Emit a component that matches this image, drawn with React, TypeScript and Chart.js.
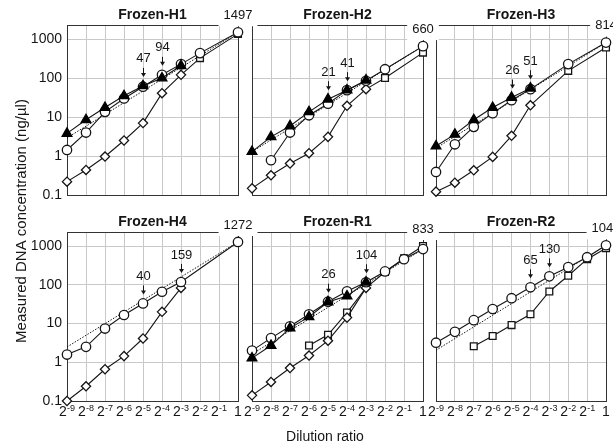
import { useEffect, useRef } from 'react';
import { Chart, registerables } from 'chart.js';

Chart.register(...registerables);

const W = 613;
const H = 446;
const FONT = "'Liberation Sans', Arial, Helvetica, sans-serif";
const INK = '#151515';
const GRID = '#c9c9c9';

// Dilution ratio exponents: 2^-9 ... 2^0 (= 1)
const exponents = [-9, -8, -7, -6, -5, -4, -3, -2, -1, 0];
const yTickValues = [0.1, 1, 10, 100, 1000];
const yMin = 0.1;
const yMax = 2300;

const titles = ['Frozen-H1', 'Frozen-H2', 'Frozen-H3', 'Frozen-H4', 'Frozen-R1', 'Frozen-R2'];

// Measured DNA concentration (ng/µl), one value per exponent (null = no point)
const h1Triangle = [3.8, 8.5, 17.5, 35, 63, 100, 207, null, null, null];
const h1Circle = [1.43, 4.0, 13.6, 30, 60, 121, 228, 437, null, 1497];
const h1Diamond = [0.22, 0.44, 0.97, 2.5, 7.0, 41, 121, null, null, null];
const h1Square = [null, null, null, null, null, null, 121, 325, null, 1360];

const h2Triangle = [1.3, 3.1, 5.9, 13.6, 28.7, 49, 88, null, null, null];
const h2Circle = [null, 0.78, 4.0, 11.1, 22, 49, 85, 169, null, 660];
const h2Diamond = [0.148, 0.32, 0.64, 1.18, 3.1, 19.4, 52, null, null, null];
const h2Square = [null, null, null, null, null, null, 52, 100, null, 450];

const h3Triangle = [1.8, 3.6, 8.5, 17.5, 31.7, 55, null, null, null, null];
const h3Circle = [0.39, 2.0, 5.6, 12.6, 27, 52, null, 228, null, 814];
const h3Diamond = [0.122, 0.207, 0.43, 0.95, 3.3, 20, null, null, null, null];
const h3Square = [null, null, null, null, null, 20, null, 153, null, 607];

const h4Circle = [1.58, 2.5, 7.4, 16.6, 33, 66, 118, null, null, 1272];
const h4Diamond = [0.1, 0.24, 0.66, 1.44, 4.1, 20, 83, null, null, null];

const r1Triangle = [1.28, 2.7, 7.6, 14.8, 36, 51, 116, null, null, null];
const r1Circle = [2.0, 4.2, 8.5, 17.3, 36.5, 68, 116, 221, 457, 833];
const r1Diamond = [0.14, 0.31, 0.71, 1.49, 3.6, 14.2, 83, null, null, null];
const r1Square = [null, null, null, 2.7, 5.1, 19.1, 83, 213, 484, 1000];

const r2Circle = [3.2, 6.1, 12.2, 23.7, 45, 86, 165, 285, 514, 1045];
const r2Square = [null, null, 2.6, 4.75, 9.1, 17.3, 67, 171, 457, 872];

// Expected (dotted) line: value at 2^-9 and at 1
const expectedLowest = [2.92, 1.29, 1.59, 2.48, 1.63, 2.04];
const expectedStock = [1497, 660, 814, 1272, 833, 1045];

// Arrow annotations
const arrowExponents = [[-5, -4], [-5, -4], [-5, -4], [-5, -3], [-5, -3], [-4, -3]];
const arrowLabels = [[47, 94], [21, 41], [26, 51], [40, 159], [26, 104], [65, 130]];

const triangles = [h1Triangle, h2Triangle, h3Triangle, null, r1Triangle, null];
const circles = [h1Circle, h2Circle, h3Circle, h4Circle, r1Circle, r2Circle];
const diamonds = [h1Diamond, h2Diamond, h3Diamond, h4Diamond, r1Diamond, null];
const squares = [h1Square, h2Square, h3Square, null, r1Square, r2Square];

// Panel geometry (plot areas)
const colLeft = [67, 252, 436];
const colRight = [238, 423, 606];
const rowTop = [25, 232];
const rowBottom = [195, 401];
const yLabelWidth = 60;

function pts(arr: (number | null)[]) {
  return exponents.map((x, k) => ({ x, y: arr[k] })).filter((d) => d.y !== null);
}

function seriesAt(i: number, k: number): number[] {
  const out: number[] = [];
  [triangles[i], circles[i], diamonds[i], squares[i]].forEach((s: any) => {
    if (s && s[k] !== null && s[k] !== undefined) out.push(s[k]);
  });
  return out;
}

function makePlugin(i: number) {
  const row = Math.floor(i / 3);
  return {
    id: 'panelDecor' + i,
    beforeDatasetsDraw(chart: any) {
      const { ctx, chartArea: a } = chart;
      ctx.save();
      ctx.strokeStyle = '#333';
      ctx.lineWidth = 1;
      ctx.strokeRect(a.left + 0.5, a.top + 0.5, a.right - a.left, a.bottom - a.top);
      ctx.restore();
    },
    afterDraw(chart: any) {
      const { ctx, chartArea: a } = chart;
      const xs = chart.scales.x;
      const ys = chart.scales.y;
      ctx.save();
      ctx.fillStyle = INK;
      ctx.strokeStyle = INK;

      // panel title
      ctx.font = `bold 14px ${FONT}`;
      ctx.textAlign = 'center';
      ctx.textBaseline = 'middle';
      ctx.fillText(titles[i], (a.left + a.right) / 2, a.top - 10);

      // arrow annotations
      ctx.font = `13px ${FONT}`;
      arrowExponents[i].forEach((e, j) => {
        const k = exponents.indexOf(e);
        const top = Math.max(...seriesAt(i, k));
        const px = Math.round(xs.getPixelForValue(e)) + 0.5;
        const py = ys.getPixelForValue(top);
        const tip = py - 9;
        ctx.lineWidth = 1;
        ctx.beginPath();
        ctx.moveTo(px, tip - 9);
        ctx.lineTo(px, tip - 3);
        ctx.stroke();
        ctx.beginPath();
        ctx.moveTo(px - 2.5, tip - 4);
        ctx.lineTo(px + 2.5, tip - 4);
        ctx.lineTo(px, tip);
        ctx.closePath();
        ctx.fill();
        ctx.fillText(String(arrowLabels[i][j]), px, tip - 18);
      });

      // stock value label with white box
      {
        const k = exponents.indexOf(0);
        const top = Math.max(...seriesAt(i, k));
        const px = xs.getPixelForValue(0);
        const py = ys.getPixelForValue(top) - 17;
        const txt = String(expectedStock[i]);
        const w = ctx.measureText(txt).width;
        ctx.fillStyle = '#fff';
        ctx.fillRect(px - w / 2 - 5, py - 9, w + 10, 20);
        ctx.fillStyle = INK;
        ctx.fillText(txt, px, py);
      }

      // x tick labels (bottom row only)
      if (row === 1) {
        exponents.forEach((e) => {
          const px = xs.getPixelForValue(e);
          const base = a.bottom + 15;
          ctx.textBaseline = 'alphabetic';
          if (e === 0) {
            ctx.font = `14px ${FONT}`;
            ctx.textAlign = 'center';
            ctx.fillText('1', px, base);
            return;
          }
          ctx.font = `14px ${FONT}`;
          const w1 = ctx.measureText('2').width;
          ctx.font = `9px ${FONT}`;
          const sup = '-' + String(-e);
          const w2 = ctx.measureText(sup).width;
          const start = px - (w1 + w2) / 2;
          ctx.textAlign = 'left';
          ctx.font = `14px ${FONT}`;
          ctx.fillText('2', start, base);
          ctx.font = `9px ${FONT}`;
          ctx.fillText(sup, start + w1 + 0.2, base - 5.5);
        });
      }

      // shared axis titles
      if (i === 0) {
        ctx.font = `14px ${FONT}`;
        ctx.textAlign = 'center';
        ctx.textBaseline = 'middle';
        ctx.fillText('Dilution ratio', 325, 437);
        ctx.save();
        ctx.translate(22, 221);
        ctx.rotate(-Math.PI / 2);
        ctx.font = `15px ${FONT}`;
        ctx.fillText('Measured DNA concentration (ng/\u00b5l)', 0, 0);
        ctx.restore();
      }
      ctx.restore();
    },
  };
}

function makeChart(canvas: HTMLCanvasElement, i: number) {
  const row = Math.floor(i / 3);
  const col = i % 3;
  const showY = col === 0;
  const base: any = {
    fill: false,
    tension: 0,
    borderColor: INK,
    borderWidth: 1.1,
    pointBorderColor: INK,
    pointBorderWidth: 1.3,
    pointBackgroundColor: '#fff',
    clip: false,
    spanGaps: true,
  };
  const datasets: any[] = [
    {
      ...base,
      label: 'Expected',
      data: [
        { x: exponents[0], y: expectedLowest[i] },
        { x: 0, y: expectedStock[i] },
      ],
      borderWidth: 1,
      borderDash: [1.5, 1.5],
      pointRadius: 0,
      order: 6,
    },
  ];
  const sq = squares[i];
  const dia = diamonds[i];
  if (sq) {
    datasets.push({
      ...base,
      label: 'Square',
      data: pts(sq),
      pointStyle: 'rect',
      pointRadius: (c: any) => {
        const r = c.raw;
        if (!r || !dia) return 4.8;
        const k = exponents.indexOf(r.x);
        return dia[k] === sq[k] ? 0 : 4.8;
      },
      order: 5,
    });
  }
  if (dia) {
    datasets.push({ ...base, label: 'Diamond', data: pts(dia), pointStyle: 'rectRot', pointRadius: 4.6, order: 4 });
  }
  if (circles[i]) {
    datasets.push({ ...base, label: 'Circle', data: pts(circles[i] as any), pointStyle: 'circle', pointRadius: 4.7, order: 3 });
  }
  if (triangles[i]) {
    datasets.push({
      ...base,
      label: 'Triangle',
      data: pts(triangles[i] as any),
      pointStyle: 'triangle',
      pointRadius: 5.6,
      pointBackgroundColor: '#000',
      pointBorderColor: '#000',
      order: 2,
    });
  }

  return new Chart(canvas, {
    type: 'line',
    data: { datasets },
    plugins: [makePlugin(i)],
    options: {
      responsive: false,
      maintainAspectRatio: false,
      animation: false,
      events: [],
      layout: {
        padding: {
          left: colLeft[col] - (showY ? yLabelWidth : 0),
          right: W - colRight[col],
          top: rowTop[row],
          bottom: H - rowBottom[row],
        },
      },
      plugins: { legend: { display: false }, tooltip: { enabled: false }, title: { display: false } },
      scales: {
        x: {
          type: 'linear',
          min: exponents[0],
          max: exponents[exponents.length - 1],
          ticks: { display: false, stepSize: 1 },
          grid: { color: GRID, lineWidth: 1, drawTicks: false },
          border: { display: false },
          afterFit: (s: any) => {
            s.height = 0;
          },
        },
        y: {
          type: 'logarithmic',
          min: yMin,
          max: yMax,
          afterBuildTicks: (s: any) => {
            s.ticks = yTickValues.map((v) => ({ value: v }));
          },
          ticks: {
            display: showY,
            padding: 5,
            color: INK,
            font: { family: FONT, size: 14 },
            callback: (v: any) => String(v),
          },
          grid: { color: GRID, lineWidth: 1, drawTicks: false },
          border: { display: false },
          afterFit: (s: any) => {
            s.width = showY ? yLabelWidth : 0;
          },
        },
      },
    } as any,
  });
}

export default function App() {
  const refs = useRef<(HTMLCanvasElement | null)[]>([]);
  useEffect(() => {
    const charts = titles.map((_, i) => makeChart(refs.current[i] as HTMLCanvasElement, i));
    return () => charts.forEach((c) => c.destroy());
  }, []);
  return (
    <div style={{ position: 'fixed', left: 0, top: 0, width: W, height: H, background: '#fff', overflow: 'hidden' }}>
      {titles.map((t, i) => (
        <canvas
          key={t}
          ref={(el) => {
            refs.current[i] = el;
          }}
          width={W}
          height={H}
          style={{ position: 'absolute', left: 0, top: 0, width: W, height: H, zIndex: 10 - i }}
        />
      ))}
    </div>
  );
}
